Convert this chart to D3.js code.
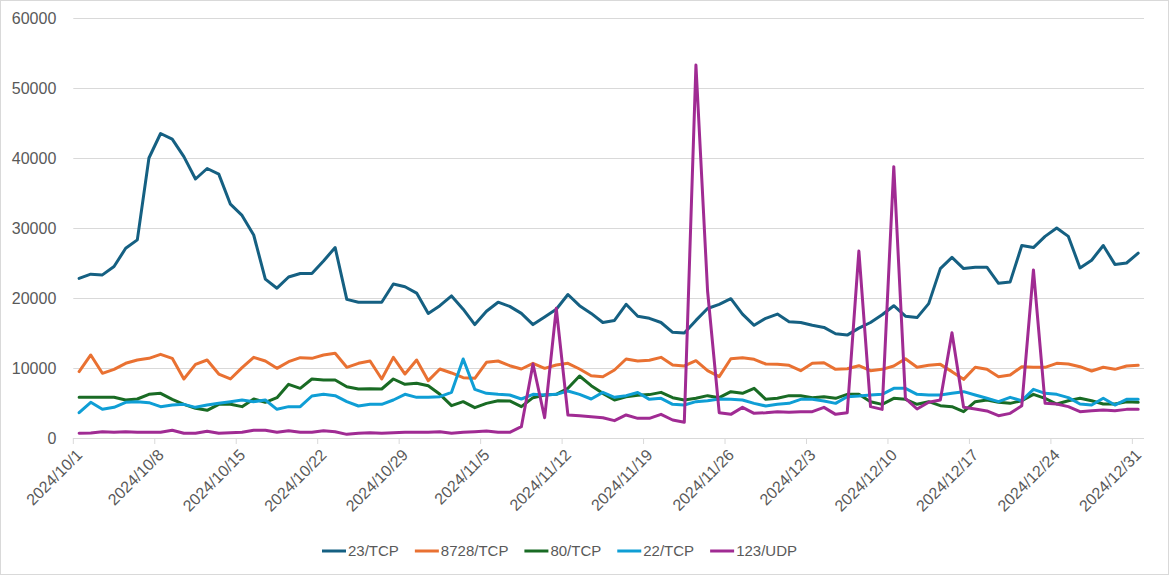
<!DOCTYPE html>
<html>
<head>
<meta charset="utf-8">
<script src="https://cdn.jsdelivr.net/npm/d3@7"></script>
<style>
  html, body { margin: 0; padding: 0; background: #fff; }
  svg { display: block; font-family: "Liberation Sans", Arial, sans-serif; }
</style>
</head>
<body>
<svg id="chart" width="1169" height="575"></svg>
<script>
// ---------- data ----------
const categories = d3.timeDay.range(new Date(2024, 9, 1), new Date(2025, 0, 1)).map(d3.timeFormat("%Y/%-m/%-d"));
const tickLabels = categories.filter((d, i) => i % 7 === 0);
const yTicks = [0, 10000, 20000, 30000, 40000, 50000, 60000];
const seriesNames = ["23/TCP", "8728/TCP", "80/TCP", "22/TCP", "123/UDP"];
const seriesColors = ["#156082", "#E97132", "#196B24", "#0F9ED5", "#A02B93"];

const tcp23 = [22800,23400,23300,24500,27100,28300,40000,43500,42700,40200,37000,38500,37700,33400,31800,29000,22700,21400,23000,23500,23500,25300,27200,19800,19400,19400,19400,22000,21600,20700,17800,18900,20300,18400,16200,18100,19400,18800,17800,16200,17300,18400,20500,18900,17800,16500,16800,19100,17400,17100,16500,15100,15000,16800,18500,19100,19900,17700,16100,17100,17700,16600,16500,16100,15800,14900,14700,15700,16500,17600,18900,17400,17200,19200,24200,25800,24200,24400,24400,22100,22300,27500,27200,28800,30000,28800,24300,25400,27500,24800,25000,26400];
const tcp8728 = [9480,11860,9240,9810,10670,11140,11380,11950,11380,8430,10520,11140,9140,8430,10050,11520,11000,9950,10900,11480,11380,11860,12100,10100,10670,11000,8430,11520,9140,11140,8190,9860,9290,8620,8520,10810,11000,10330,9860,10670,9950,10430,10670,9860,8900,8760,9710,11290,11000,11100,11520,10430,10290,11050,9620,8760,11330,11470,11240,10570,10520,10380,9620,10670,10760,9810,9900,10330,9620,9810,10290,11330,10100,10380,10520,9480,8380,10100,9810,8760,9000,10190,10100,10100,10670,10570,10190,9570,10100,9810,10290,10380];
const tcp80 = [5810,5810,5810,5810,5430,5570,6240,6380,5520,4810,4240,3950,4810,4810,4480,5570,5100,5760,7670,7100,8430,8290,8290,7330,7000,7050,7000,8430,7670,7810,7470,6240,4620,5190,4330,4950,5330,5290,4480,5760,6140,6240,7100,8860,7470,6380,5430,5900,6100,6200,6520,5760,5430,5670,6050,5760,6620,6380,7100,5520,5670,6050,6050,5760,5900,5670,6240,6240,5190,4800,5670,5520,4810,5190,4620,4480,3760,5190,5430,5100,4950,5330,6240,5670,4860,5330,5670,5330,4860,4860,5190,5100];
const tcp22 = [3620,5100,4100,4380,5100,5190,5050,4480,4710,4810,4380,4710,4950,5190,5430,5190,5430,4100,4480,4480,6000,6240,6050,5190,4570,4810,4810,5430,6240,5810,5810,5900,6520,11290,6950,6380,6240,6140,5570,6240,6140,6240,6710,6240,5570,6520,5810,6050,6500,5520,5670,4810,4710,5190,5330,5570,5520,5430,4950,4570,4810,4950,5520,5520,5290,4950,5900,6000,6140,6240,7100,7100,6240,6140,6140,6380,6620,6140,5670,5190,5810,5330,6950,6380,6240,5760,4860,4710,5670,4710,5520,5520];
const udp123 = [670,710,900,810,900,810,810,810,1100,670,670,950,670,760,810,1100,1100,810,1050,810,810,1050,900,520,670,760,670,760,810,810,810,900,670,810,900,1000,810,810,1620,10570,2900,18520,3290,3190,3050,2900,2480,3290,2810,2810,3380,2570,2240,53290,21000,3620,3380,4380,3520,3620,3760,3670,3760,3760,4380,3380,3620,26710,4480,4090,38760,5670,4140,5100,5430,15050,4380,4140,3860,3190,3520,4620,24000,4950,4860,4480,3760,3900,4000,3900,4090,4090];
const seriesValues = [tcp23, tcp8728, tcp80, tcp22, udp123];

// ---------- layout ----------
const W = 1169, H = 575;
const plot = { left: 73.3, right: 1144, top: 18, bottom: 438 };
const textColor = "#595959", gridColor = "#d9d9d9";

const svg = d3.select("#chart");
svg.append("rect").attr("x", 0.5).attr("y", 0.5).attr("width", W - 1).attr("height", H - 1)
  .attr("fill", "#fff").attr("stroke", gridColor);

const x = d3.scaleBand().domain(categories).range([plot.left, plot.right]).paddingInner(0).paddingOuter(0);
const y = d3.scaleLinear().domain([0, 60000]).range([plot.bottom, plot.top]);

// gridlines + y labels
const yAxis = d3.axisLeft(y).tickValues(yTicks).tickSize(-(plot.right - plot.left)).tickPadding(17).tickFormat(d3.format("d"));
const gy = svg.append("g").attr("transform", `translate(${plot.left},0)`).call(yAxis);
gy.select(".domain").remove();
gy.selectAll(".tick line").attr("stroke", gridColor).attr("stroke-width", 1);
gy.selectAll(".tick text").attr("fill", textColor).style("font-size", "16px").style("font-family", '"Liberation Sans", Arial, sans-serif');

// x axis
const gx = svg.append("g").attr("transform", `translate(0,${plot.bottom})`);
gx.append("line").attr("x1", plot.left).attr("x2", plot.right).attr("y1", 0.5).attr("y2", 0.5).attr("stroke", gridColor);
tickLabels.forEach(lbl => {
  const tx = x(lbl);
  gx.append("line").attr("x1", tx).attr("x2", tx).attr("y1", 0).attr("y2", 6).attr("stroke", gridColor);
  gx.append("text")
    .attr("transform", `translate(${tx + 6},${14}) rotate(-45)`)
    .attr("text-anchor", "end").attr("dy", "0.35em")
    .attr("fill", textColor).style("font-size", "16px")
    .text(lbl);
});

// lines
const line = d3.line().x((d, i) => x(categories[i]) + x.bandwidth() / 2).y(d => y(d));
seriesValues.forEach((vals, k) => {
  svg.append("path").datum(vals)
    .attr("fill", "none").attr("stroke", seriesColors[k]).attr("stroke-width", 3)
    .attr("stroke-linejoin", "round").attr("stroke-linecap", "round")
    .attr("d", line);
});

// legend
const legend = svg.append("g").attr("transform", `translate(322,551)`);
let lx = 0;
seriesNames.forEach((name, k) => {
  const g = legend.append("g").attr("transform", `translate(${lx},0)`);
  g.append("line").attr("x1", 0).attr("x2", 24).attr("y1", 0).attr("y2", 0)
    .attr("stroke", seriesColors[k]).attr("stroke-width", 3);
  const t = g.append("text").attr("x", 26).attr("dy", "0.35em").attr("fill", textColor)
    .style("font-size", "15px").text(name);
  lx += 26 + t.node().getComputedTextLength() + 16;
});
</script>
</body>
</html>
